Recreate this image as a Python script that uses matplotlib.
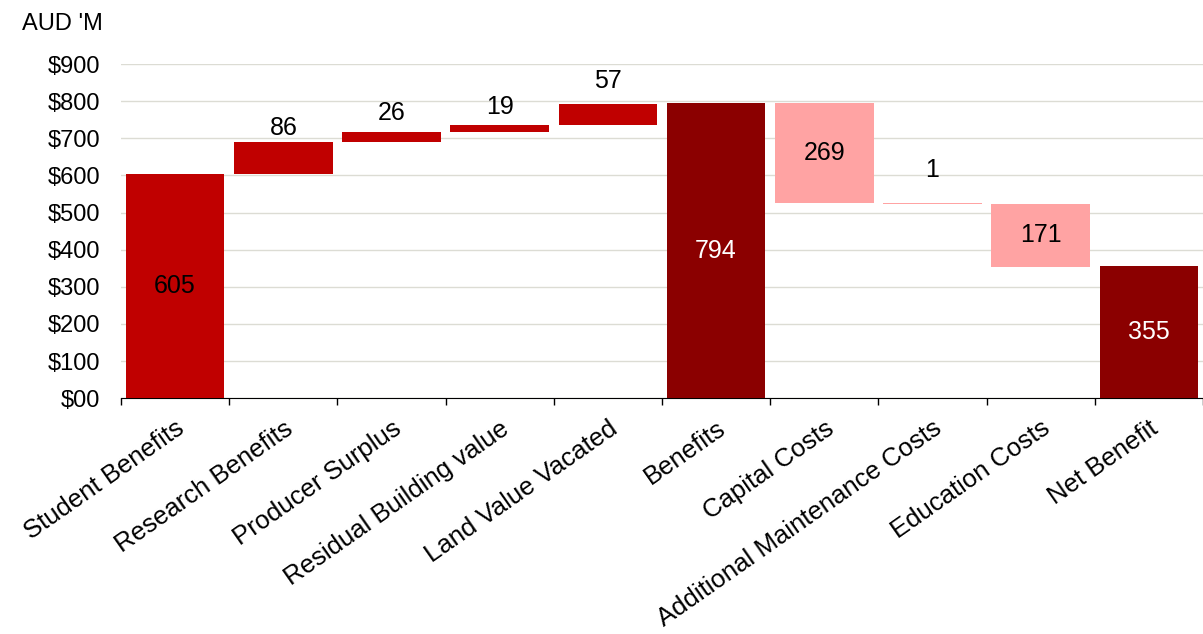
import numpy as np
import matplotlib.pyplot as plt
from matplotlib.ticker import FuncFormatter, FixedLocator

plt.rcParams['font.family'] = ['Liberation Sans', 'DejaVu Sans']

categories = ['Student Benefits', 'Research Benefits', 'Producer Surplus',
              'Residual Building value', 'Land Value Vacated', 'Benefits',
              'Capital Costs', 'Additional Maintenance Costs', 'Education Costs',
              'Net Benefit']
values = [605, 86, 26, 19, 57, 794, -269, -1, -171, 355]
kinds = ['gain', 'gain', 'gain', 'gain', 'gain', 'total',
         'cost', 'cost', 'cost', 'total']
label_inside = [True, False, False, False, False, True, True, False, True, True]
# gap (points) between bar top and the outside labels
label_gap = [0, 1.5, 5, 4.5, 8, 0, 0, 15, 0, 0]

colors = {'gain': '#C00000', 'total': '#8B0000', 'cost': '#FFA3A3'}
text_colors = {'gain': 'black', 'total': 'white', 'cost': 'black'}
FS = 17

# waterfall bottoms
bottoms = []
heights = []
running = 0
for v, k in zip(values, kinds):
    if k == 'total':
        bottoms.append(0)
        heights.append(v)
        running = v
    elif v >= 0:
        bottoms.append(running)
        heights.append(v)
        running += v
    else:
        running += v
        bottoms.append(running)
        heights.append(-v)

fig = plt.figure(figsize=(12.03, 6.34), dpi=100)
ax = fig.add_axes([0.1006, 0.372, 0.8994, 0.527])

x = np.arange(len(categories))
ax.bar(x, heights, bottom=bottoms, width=0.91,
       color=[colors[k] for k in kinds], zorder=3)

for xi, b, h, v, k, inside, gap in zip(x, bottoms, heights, values, kinds,
                                       label_inside, label_gap):
    txt = str(abs(v))
    if inside:
        ax.text(xi, b + h / 2, txt, ha='center', va='center', fontsize=18,
                color=text_colors[k], zorder=4)
    else:
        ax.annotate(txt, (xi, b + h), xytext=(0, gap), textcoords='offset points',
                    ha='center', va='bottom', fontsize=18, color='black')

ax.set_xlim(-0.5, len(categories) - 0.5)
ax.set_ylim(0, 900)
ax.set_yticks(np.arange(0, 901, 100))
ax.yaxis.set_major_formatter(FuncFormatter(lambda v, p: '$00' if v == 0 else f'${int(v)}'))
ax.grid(axis='y', color='#DCDCD4', linewidth=1, zorder=0)
ax.tick_params(axis='y', length=0, labelsize=FS, pad=15)

ax.set_xticks(x)
ax.set_xticklabels(categories, rotation=35, ha='right', rotation_mode='anchor', fontsize=18.5)
ax.tick_params(axis='x', which='major', length=0, pad=13)
ax.xaxis.set_minor_locator(FixedLocator(np.arange(-0.5, len(categories), 1.0)))
ax.tick_params(axis='x', which='minor', length=5, width=1, color='black', direction='out')

for s in ['top', 'right', 'left']:
    ax.spines[s].set_visible(False)
ax.spines['bottom'].set_color('black')

fig.text(0.018, 0.962, "AUD 'M", fontsize=FS, va='center', ha='left')

fig.savefig('out.png', dpi=100)
